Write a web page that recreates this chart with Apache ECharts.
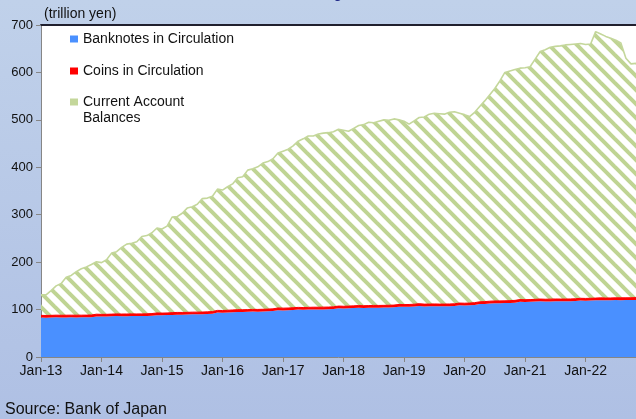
<!DOCTYPE html>
<html>
<head>
<meta charset="utf-8">
<script src="https://cdn.jsdelivr.net/npm/echarts@6/dist/echarts.min.js"></script>
<style>html,body{margin:0;padding:0;}#c{width:636px;height:419px;}</style>
</head>
<body>
<div id="c"></div>
<script>
const monthNames = ['Jan','Feb','Mar','Apr','May','Jun','Jul','Aug','Sep','Oct','Nov','Dec'];
const yearLabels = ['13','14','15','16','17','18','19','20','21','22'];
const pointCount = 119; // Jan-13 .. Nov-22
const yTicks = [0,100,200,300,400,500,600,700];

const banknotes = [
83.3,83.0,83.2,83.6,83.4,83.5,83.6,83.5,83.6,83.7,84.0,85.6,
85.3,85.4,85.8,86.3,86.0,86.1,86.3,86.2,86.3,86.4,86.9,88.2,
88.0,88.3,88.8,89.3,89.2,89.4,89.9,89.9,90.1,90.5,91.1,93.6,
93.3,93.8,94.5,95.1,94.9,95.2,95.7,95.6,95.9,96.3,96.8,98.6,
98.3,98.6,99.2,99.9,99.6,99.9,100.3,100.2,100.4,100.6,101.0,102.6,
102.3,102.6,103.1,103.8,103.4,103.7,104.1,104.0,104.2,104.4,104.8,106.0,
105.7,105.9,106.5,107.6,106.7,106.8,107.1,106.8,106.8,107.0,107.4,108.9,
108.6,108.9,109.8,111.5,112.0,112.9,113.4,113.5,113.6,114.0,114.6,116.3,
116.0,116.3,116.8,117.4,117.0,117.2,117.5,117.4,117.4,117.6,118.0,119.0,
118.7,119.0,119.4,119.9,119.5,119.7,120.0,119.9,120.0,120.1,120.4];

const coins = [
4.5,4.5,4.6,4.6,4.6,4.6,4.6,4.6,4.6,4.6,4.6,4.7,
4.6,4.6,4.6,4.6,4.6,4.6,4.6,4.6,4.6,4.6,4.7,4.7,
4.6,4.6,4.7,4.7,4.7,4.7,4.7,4.7,4.7,4.7,4.7,4.7,
4.7,4.7,4.7,4.7,4.7,4.7,4.7,4.7,4.7,4.7,4.7,4.8,
4.7,4.7,4.7,4.7,4.7,4.7,4.7,4.7,4.7,4.7,4.7,4.8,
4.7,4.7,4.7,4.7,4.7,4.7,4.7,4.7,4.7,4.7,4.7,4.8,
4.8,4.8,4.8,4.8,4.8,4.8,4.8,4.8,4.8,4.8,4.8,4.8,
4.8,4.8,4.8,4.8,4.8,4.8,4.8,4.8,4.8,4.8,4.8,4.8,
4.8,4.8,4.8,4.8,4.8,4.8,4.8,4.8,4.8,4.8,4.8,4.8,
4.8,4.8,4.8,4.8,4.8,4.8,4.8,4.8,4.8,4.8,4.8];

const currentAccount = [
43.2,43.5,52.2,61.8,67.0,79.9,83.8,91.9,97.8,101.7,106.4,110.7,
109.1,115.0,128.6,131.1,140.4,147.3,149.1,152.2,163.1,165.0,170.4,179.1,
177.4,183.1,201.5,202.0,209.1,219.9,222.4,227.4,239.2,239.8,243.2,255.7,
254.0,260.5,265.8,278.2,280.4,294.1,296.6,300.7,308.4,311.0,316.5,326.6,
331.0,334.7,341.1,350.4,355.7,361.4,361.0,365.1,366.9,367.7,369.3,372.6,
371.0,368.7,374.2,379.5,381.9,386.6,385.2,388.3,391.1,389.9,392.5,389.2,
386.5,380.3,386.7,392.6,394.5,400.4,402.1,401.4,400.4,404.2,404.8,400.3,
397.6,393.3,401.4,411.7,423.2,435.3,447.8,463.7,481.6,484.2,486.6,487.9,
489.2,490.9,506.4,521.8,526.2,531.0,532.7,533.8,535.8,536.6,537.2,537.2,
535.5,536.2,561.8,556.3,551.7,547.5,543.2,537.3,505.2,493.1,493.8];

const categories = [];
yearLabels.forEach(y => monthNames.forEach(m => categories.push(m + '-' + y)));
categories.length = pointCount;

const FONT = '"Liberation Sans", Arial, sans-serif';
const GREEN = '#C4D79B';

function makeStripes() {
  const P = 14;
  const c = document.createElement('canvas');
  c.width = P; c.height = P;
  const g = c.getContext('2d');
  g.strokeStyle = '#BFD493';
  g.lineWidth = 4.0;
  for (let k = -1; k <= 1; k++) {
    g.beginPath();
    g.moveTo(k * P - 2, -2);
    g.lineTo(k * P + P + 2, P + 2);
    g.stroke();
  }
  return c;
}

const isJan = (i, v) => String(v).indexOf('Jan') === 0;

const chart = echarts.init(document.getElementById('c'), null, {renderer: 'canvas'});
chart.setOption({
  animation: false,
  backgroundColor: {type: 'linear', x: 0, y: 0, x2: 0, y2: 1,
    colorStops: [{offset: 0, color: '#C0D1EA'}, {offset: 1, color: '#AFC0E4'}]},
  textStyle: {fontFamily: FONT},
  grid: {left: 41, right: 0, top: 25, bottom: 62, show: true, backgroundColor: '#FFFFFF', borderWidth: 0},
  legend: {
    orient: 'vertical', left: 70, top: 14, padding: 0,
    itemWidth: 8, itemHeight: 7, itemGap: -18, icon: 'rect',
    textStyle: {fontSize: 14, color: '#111111', lineHeight: 16, fontFamily: FONT},
    formatter: n => n === 'Current Account Balances' ? '\nCurrent Account\nBalances' : n,
    data: [
      {name: 'Banknotes in Circulation', itemStyle: {color: '#4A90FF'}, textStyle: {lineHeight: 50}},
      {name: 'Coins in Circulation', itemStyle: {color: '#FF0000'}, textStyle: {lineHeight: 50}},
      {name: 'Current Account Balances', itemStyle: {color: GREEN}}
    ]
  },
  xAxis: [{
    type: 'category', data: categories, boundaryGap: false,
    axisLine: {lineStyle: {color: '#868686', width: 1}},
    axisTick: {show: true, interval: isJan, length: 5, lineStyle: {color: '#868686'}},
    axisLabel: {interval: isJan, fontSize: 14, color: '#111111', margin: 7, fontFamily: FONT},
    splitLine: {show: false}
  }, {
    type: 'category', data: categories, boundaryGap: false, position: 'top',
    axisLine: {lineStyle: {color: '#20202E', width: 2}},
    axisTick: {show: false}, axisLabel: {show: false}, splitLine: {show: false}
  }],
  yAxis: {
    type: 'value', min: yTicks[0], max: yTicks[yTicks.length - 1], interval: 100,
    axisLine: {show: true, lineStyle: {color: '#868686'}},
    axisTick: {show: true, length: 5, lineStyle: {color: '#868686'}},
    axisLabel: {fontSize: 13, color: '#111111', margin: 8, fontFamily: FONT},
    splitLine: {show: false}
  },
  series: [
    {name: 'Banknotes in Circulation', type: 'line', stack: 'mb', data: banknotes,
     symbol: 'none', z: 2, itemStyle: {color: '#4A90FF'},
     lineStyle: {width: 0}, areaStyle: {color: '#4A90FF', opacity: 1}},
    {name: 'Coins in Circulation', type: 'line', stack: 'mb', data: coins,
     symbol: 'none', z: 4, itemStyle: {color: '#FF0000'},
     lineStyle: {width: 1, color: '#FF0000'}, areaStyle: {color: '#FF0000', opacity: 1}},
    {name: 'Current Account Balances', type: 'line', stack: 'mb', data: currentAccount,
     symbol: 'none', z: 3, itemStyle: {color: GREEN},
     lineStyle: {width: 1.6, color: GREEN},
     areaStyle: {color: {image: makeStripes(), repeat: 'repeat'}, opacity: 1}}
  ],
  graphic: [
    {type: 'text', left: 44, top: 7, style: {text: '(trillion yen)', font: '14px ' + FONT, fill: '#111111'}},
    {type: 'text', left: 5, top: 402, style: {text: 'Source: Bank of Japan', font: '16px ' + FONT, fill: '#111111'}},
    {type: 'text', left: 241, top: -23, style: {text: 'Monetary Base', font: 'bold 24px ' + FONT, fill: '#1C2586'}}
  ]
});
</script>
</body>
</html>
